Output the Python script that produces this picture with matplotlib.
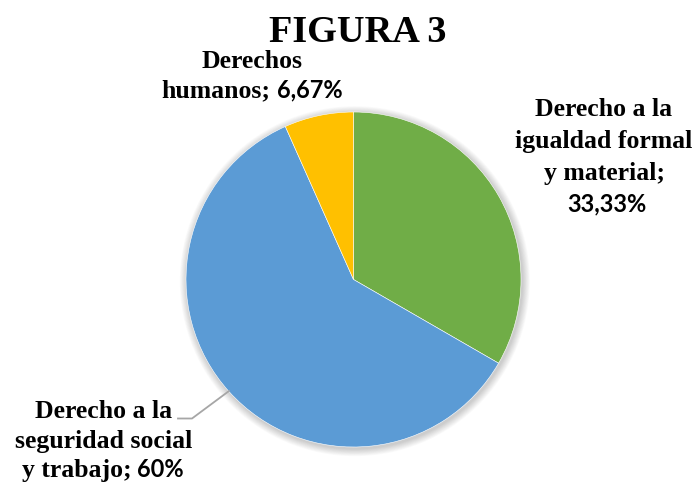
import matplotlib
matplotlib.use("Agg")
import matplotlib.pyplot as plt
from matplotlib.patches import Circle

# ---- data ----
categories = ["Derecho a la igualdad formal y material",
              "Derecho a la seguridad social y trabajo",
              "Derechos humanos"]
values = [33.33, 60.0, 6.67]
pct_labels = ["33,33%", "60%", "6,67%"]
colors = ["#70AD47", "#5B9BD5", "#FFC000"]
title = "FIGURA 3"

W, H = 700, 487
fig = plt.figure(figsize=(W / 100, H / 100), dpi=100)
fig.patch.set_facecolor("white")

def fx(x):
    return x / W

def fy(y):
    return 1 - y / H

# pie axes: centre (353.5, 279.5) px, radius 167.5 px
cx, cy, r = 353.5, 279.5, 167.5
ax = fig.add_axes([fx(cx - r), fy(cy + r), 2 * r / W, 2 * r / H])

wedges, _ = ax.pie(values, colors=colors, startangle=90, counterclock=False,
                   radius=1, wedgeprops=dict(edgecolor="white", linewidth=0.4))

# soft shadow (outer glow, slightly offset down-right)
for k in range(10, 0, -1):
    ax.add_patch(Circle((0.008, -0.01), 1 + k * 0.0045, color="black",
                        alpha=0.02, lw=0, zorder=0, clip_on=False))

ax.set_xlim(-1, 1)
ax.set_ylim(-1, 1)
ax.set_aspect("equal")
ax.axis("off")

# title
fig.text(fx(358), fy(42), title, ha="center", va="baseline",
         fontsize=27.5, fontweight="bold", family="Liberation Serif")

SERIF = "Liberation Serif"
SANS = "Lato"
FS = 18.5
FS_NUM = 17

def line(xc, yb, pieces):
    """pieces: list of (text, family, fontsize); centred at xc, baseline yb (px)."""
    r_ = fig.canvas.get_renderer()
    objs = []
    for txt, fam, fs in pieces:
        t = fig.text(0, fy(yb), txt, ha="left", va="baseline",
                     fontsize=fs, fontweight="bold", family=fam)
        objs.append(t)
    widths = [o.get_window_extent(r_).width for o in objs]
    gap = 6.0
    total = sum(widths) + gap * (len(objs) - 1)
    x = xc - total / 2
    for o, w in zip(objs, widths):
        o.set_x(fx(x))
        x += w + gap

# green label
gx = 604
line(gx, 116, [("Derecho a la", SERIF, FS)])
line(gx, 148, [("igualdad formal", SERIF, FS)])
line(gx, 180, [("y material;", SERIF, FS)])
line(gx + 3, 211, [(pct_labels[0], SANS, FS_NUM)])

# blue label
bx = 104
line(bx, 418, [("Derecho a la", SERIF, FS)])
line(bx, 448, [("seguridad social", SERIF, FS)])
line(bx - 1, 477, [("y trabajo;", SERIF, FS), (pct_labels[1], SANS, FS_NUM)])

# yellow label
yx = 252
line(yx, 68, [("Derechos", SERIF, FS)])
line(yx, 97, [("humanos;", SERIF, FS), (pct_labels[2], SANS, FS_NUM)])

# leader line for blue label
fig.add_artist(plt.Line2D([fx(178), fx(192), fx(229)],
                          [fy(418.5), fy(418.5), fy(391)],
                          color="#A6A6A6", lw=1.3))

fig.savefig("out.png", dpi=100)
